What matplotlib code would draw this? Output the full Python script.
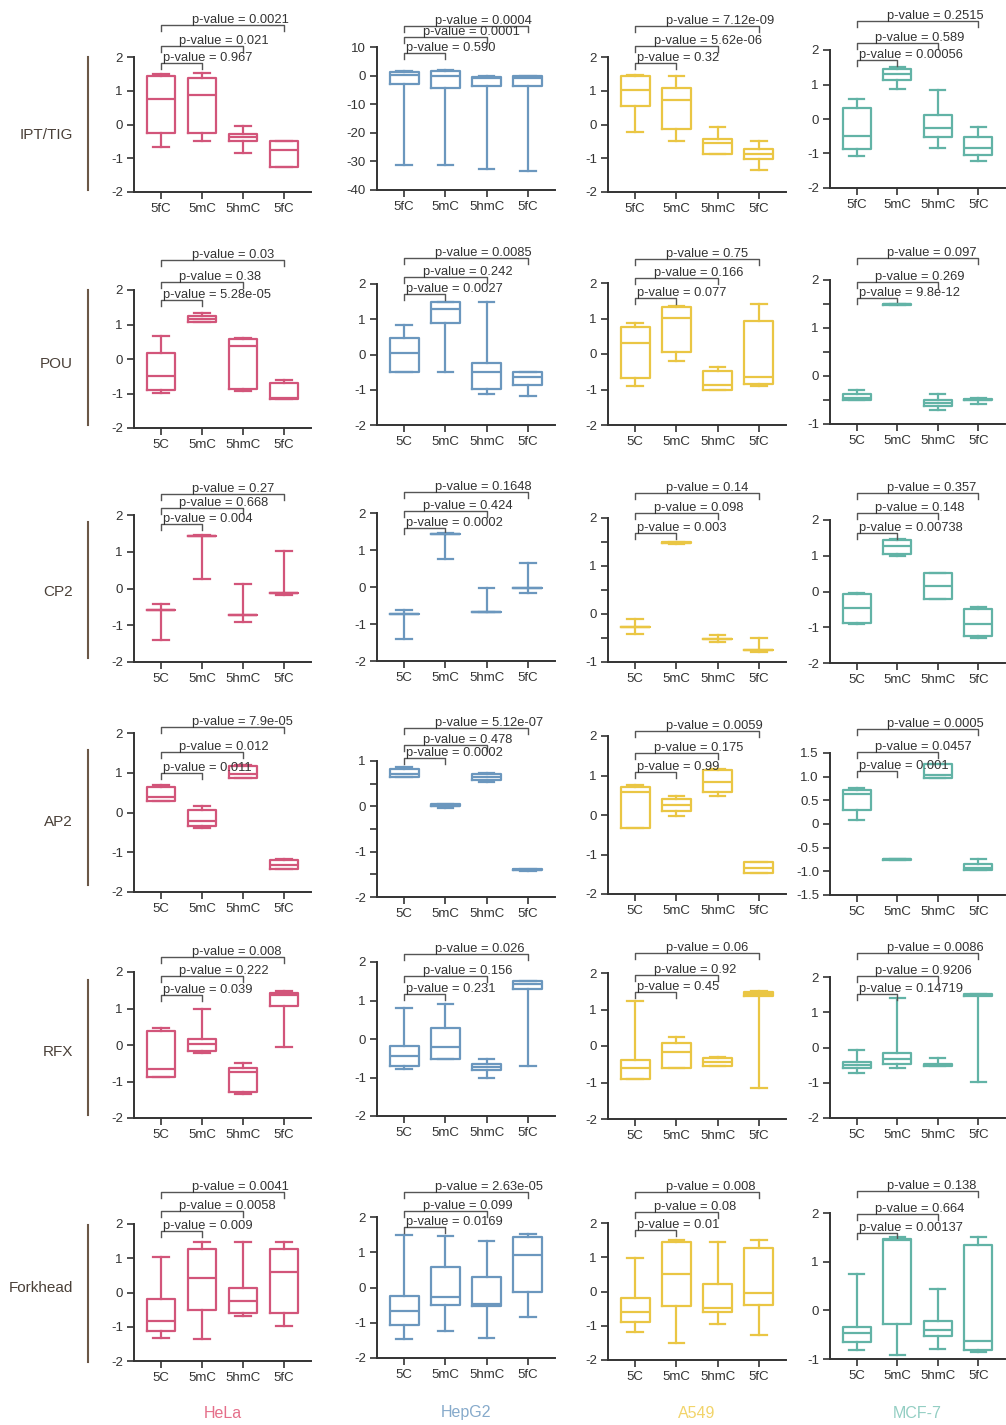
import matplotlib
matplotlib.use('Agg')
import matplotlib.pyplot as plt
import matplotlib.transforms as mtransforms

plt.rcParams['font.family'] = ['Liberation Sans', 'DejaVu Sans']
plt.rcParams['axes.unicode_minus'] = False

W, H = 1006, 1425

# ---- data ----
cell_lines = ['HeLa', 'HepG2', 'A549', 'MCF-7']
motifs = ['IPT/TIG', 'POU', 'CP2', 'AP2', 'RFX', 'Forkhead']
box_colors = ['#D2557A', '#6B97BE', '#EAC644', '#62B3A6']
name_colors = ['#E56F8A', '#86AACB', '#F2D46A', '#93CEC3']

xlabels_first = ['5fC', '5mC', '5hmC', '5fC']
xlabels_rest = ['5C', '5mC', '5hmC', '5fC']

# box stats per category: (whislo, q1, med, q3, whishi)
ipt_hela = [(-0.68, -0.24, 0.77, 1.45, 1.5), (-0.5, -0.26, 0.88, 1.38, 1.52),
            (-0.85, -0.49, -0.38, -0.29, -0.03), (-1.25, -1.25, -0.75, -0.5, -0.5)]
ipt_hepg2 = [(-31.3, -2.8, 0.3, 1.3, 1.6), (-31.3, -4.5, -0.3, 1.5, 1.9),
             (-32.7, -3.7, -0.8, -0.4, -0.2), (-33.4, -3.7, -0.8, -0.3, -0.1)]
ipt_a549 = [(-0.21, 0.55, 1.01, 1.43, 1.48), (-0.5, -0.14, 0.72, 1.09, 1.43),
            (-0.87, -0.87, -0.56, -0.43, -0.07), (-1.34, -1.02, -0.87, -0.73, -0.5)]
ipt_mcf7 = [(-1.08, -0.87, -0.49, 0.31, 0.57), (0.88, 1.12, 1.3, 1.45, 1.5),
            (-0.85, -0.53, -0.27, 0.11, 0.83), (-1.22, -1.03, -0.84, -0.51, -0.22)]

pou_hela = [(-0.98, -0.9, -0.5, 0.18, 0.67), (1.06, 1.06, 1.16, 1.26, 1.33),
            (-0.92, -0.88, 0.39, 0.58, 0.6), (-1.15, -1.15, -1.12, -0.69, -0.61)]
pou_hepg2 = [(-0.51, -0.51, 0.03, 0.47, 0.85), (-0.51, 0.88, 1.28, 1.49, 1.5),
             (-1.12, -0.98, -0.51, -0.25, 1.49), (-1.18, -0.87, -0.63, -0.49, -0.49)]
pou_a549 = [(-0.9, -0.67, 0.3, 0.77, 0.86), (-0.19, 0.07, 1.02, 1.33, 1.36),
            (-1.01, -1.01, -0.87, -0.48, -0.36), (-0.89, -0.84, -0.64, 0.93, 1.42)]
pou_mcf7 = [(-0.5, -0.5, -0.45, -0.38, -0.29), (1.47, 1.48, 1.49, 1.5, 1.51),
            (-0.71, -0.63, -0.56, -0.5, -0.38), (-0.59, -0.51, -0.49, -0.47, -0.45)]

cp2_hela = [(-1.39, -0.59, -0.59, -0.59, -0.43), (0.25, 1.43, 1.43, 1.43, 1.46),
            (-0.91, -0.71, -0.71, -0.71, 0.11), (-0.18, -0.12, -0.12, -0.12, 1.02)]
cp2_hepg2 = [(-1.41, -0.74, -0.74, -0.74, -0.63), (0.77, 1.42, 1.42, 1.42, 1.47),
             (-0.68, -0.68, -0.68, -0.68, -0.04), (-0.17, -0.04, -0.04, -0.04, 0.66)]
cp2_a549 = [(-0.41, -0.28, -0.28, -0.28, -0.11), (1.46, 1.47, 1.48, 1.49, 1.5),
            (-0.59, -0.53, -0.53, -0.53, -0.44), (-0.79, -0.76, -0.76, -0.76, -0.5)]
cp2_mcf7 = [(-0.91, -0.89, -0.45, -0.07, -0.05), (1.0, 1.05, 1.28, 1.45, 1.47),
            (-0.21, -0.21, 0.14, 0.53, 0.53), (-1.31, -1.24, -0.91, -0.5, -0.44)]

ap2_hela = [(0.29, 0.29, 0.38, 0.65, 0.68), (-0.4, -0.34, -0.21, 0.07, 0.17),
            (0.86, 0.86, 0.97, 1.18, 1.2), (-1.41, -1.41, -1.31, -1.2, -1.17)]
ap2_hepg2 = [(0.64, 0.64, 0.71, 0.82, 0.86), (-0.04, 0.0, 0.01, 0.05, 0.06),
             (0.53, 0.57, 0.64, 0.71, 0.73), (-1.42, -1.41, -1.4, -1.39, -1.38)]
ap2_a549 = [(-0.34, -0.34, 0.57, 0.72, 0.76), (-0.02, 0.1, 0.25, 0.4, 0.49),
            (0.49, 0.57, 0.83, 1.14, 1.16), (-1.47, -1.47, -1.35, -1.2, -1.18)]
ap2_mcf7 = [(0.08, 0.29, 0.64, 0.72, 0.75), (-0.77, -0.76, -0.75, -0.74, -0.73),
            (0.97, 0.97, 1.03, 1.26, 1.27), (-0.98, -0.98, -0.94, -0.84, -0.73)]

rfx_hela = [(-0.87, -0.87, -0.66, 0.37, 0.46), (-0.21, -0.16, 0.02, 0.16, 0.99),
            (-1.35, -1.28, -0.73, -0.62, -0.48), (-0.05, 1.08, 1.37, 1.43, 1.47)]
rfx_hepg2 = [(-0.77, -0.7, -0.44, -0.19, 0.81), (-0.53, -0.53, -0.21, 0.29, 0.9),
             (-1.01, -0.81, -0.74, -0.64, -0.53), (-0.7, 1.29, 1.42, 1.5, 1.51)]
rfx_a549 = [(-0.91, -0.91, -0.6, -0.37, 1.24), (-0.6, -0.6, -0.16, 0.07, 0.24),
            (-0.56, -0.55, -0.43, -0.34, -0.29), (-1.14, 1.38, 1.43, 1.49, 1.5)]
rfx_mcf7 = [(-0.71, -0.57, -0.5, -0.4, -0.08), (-0.57, -0.46, -0.34, -0.15, 1.4),
            (-0.53, -0.53, -0.5, -0.46, -0.29), (-0.98, 1.45, 1.48, 1.51, 1.52)]

fkh_hela = [(-1.33, -1.12, -0.83, -0.18, 1.04), (-1.37, -0.5, 0.43, 1.26, 1.48),
            (-0.68, -0.59, -0.25, 0.12, 1.48), (-0.99, -0.59, 0.59, 1.26, 1.48)]
fkh_hepg2 = [(-1.47, -1.07, -0.66, -0.25, 1.5), (-1.24, -0.5, -0.26, 0.58, 1.46),
             (-1.42, -0.53, -0.48, 0.3, 1.31), (-0.85, -0.12, 0.92, 1.42, 1.52)]
fkh_a549 = [(-1.18, -0.89, -0.6, -0.19, 0.97), (-1.49, -0.42, 0.51, 1.44, 1.5),
            (-0.94, -0.61, -0.49, 0.22, 1.44), (-1.28, -0.39, -0.03, 1.26, 1.5)]
fkh_mcf7 = [(-0.82, -0.65, -0.47, -0.35, 0.74), (-0.91, -0.28, 1.44, 1.46, 1.5),
            (-0.8, -0.52, -0.4, -0.21, 0.43), (-0.86, -0.81, -0.64, 1.34, 1.51)]

# p-values: first category vs 2nd, 3rd, 4th
pv_ipt = [['0.967', '0.021', '0.0021'], ['0.590', '0.0001', '0.0004'],
          ['0.32', '5.62e-06', '7.12e-09'], ['0.00056', '0.589', '0.2515']]
pv_pou = [['5.28e-05', '0.38', '0.03'], ['0.0027', '0.242', '0.0085'],
          ['0.077', '0.166', '0.75'], ['9.8e-12', '0.269', '0.097']]
pv_cp2 = [['0.004', '0.668', '0.27'], ['0.0002', '0.424', '0.1648'],
          ['0.003', '0.098', '0.14'], ['0.00738', '0.148', '0.357']]
pv_ap2 = [['0.011', '0.012', '7.9e-05'], ['0.0002', '0.478', '5.12e-07'],
          ['0.99', '0.175', '0.0059'], ['0.001', '0.0457', '0.0005']]
pv_rfx = [['0.039', '0.222', '0.008'], ['0.231', '0.156', '0.026'],
          ['0.45', '0.92', '0.06'], ['0.14719', '0.9206', '0.0086']]
pv_fkh = [['0.009', '0.0058', '0.0041'], ['0.0169', '0.099', '2.63e-05'],
          ['0.01', '0.08', '0.008'], ['0.00137', '0.664', '0.138']]

# y tick labels per panel
yt_std = ['-2', '-1', '0', '1', '2']
yt_m1 = ['-1', '0', '1', '2']
yticks_ipt = [yt_std, ['-40', '-30', '-20', '-10', '0', '10'], yt_std, yt_std]
yticks_pou = [yt_std, yt_std, yt_std, yt_m1]
yticks_cp2 = [yt_std, yt_std, yt_m1, yt_std]
yticks_ap2 = [yt_std, ['-2', '-1', '0', '1'], yt_std,
              ['-1.5', '-1.0', '-0.5', '0', '0.5', '1.0', '1.5']]
yticks_rfx = [yt_std, yt_std, yt_std, yt_std]
yticks_fkh = [yt_std, yt_std, yt_std, yt_m1]

all_boxes = [[ipt_hela, ipt_hepg2, ipt_a549, ipt_mcf7],
             [pou_hela, pou_hepg2, pou_a549, pou_mcf7],
             [cp2_hela, cp2_hepg2, cp2_a549, cp2_mcf7],
             [ap2_hela, ap2_hepg2, ap2_a549, ap2_mcf7],
             [rfx_hela, rfx_hepg2, rfx_a549, rfx_mcf7],
             [fkh_hela, fkh_hepg2, fkh_a549, fkh_mcf7]]
all_pv = [pv_ipt, pv_pou, pv_cp2, pv_ap2, pv_rfx, pv_fkh]
all_yt = [yticks_ipt, yticks_pou, yticks_cp2, yticks_ap2, yticks_rfx, yticks_fkh]
half_ticks = [(1, 3), (2, 2), (3, 1)]

# ---- layout (pixels) ----
col_left = [134, 377, 608, 830]
col_right = [311, 555, 786, 1005]
ax_tb = [[(57, 192), (47, 190), (57, 192), (50, 188)],
         [(290, 428), (284, 425), (283, 425), (280, 424)],
         [(515, 662), (513, 661), (518, 662), (520, 663)],
         [(733, 892), (761, 897), (736, 894), (753, 895)],
         [(972, 1118), (962, 1116), (973, 1119), (977, 1118)],
         [(1224, 1361), (1217, 1358), (1223, 1360), (1213, 1359)]]
bracket_y = [[(63, 46, 25), (53, 37, 26), (63, 46, 26), (60, 43, 21)],
             [(300, 282, 260), (294, 277, 258), (298, 278, 259), (298, 282, 258)],
             [(524, 508, 494), (528, 511, 492), (533, 513, 493), (533, 513, 493)],
             [(773, 752, 727), (758, 745, 728), (772, 753, 731), (771, 752, 729)],
             [(995, 976, 957), (994, 976, 954), (992, 975, 953), (994, 976, 953)],
             [(1231, 1211, 1192), (1227, 1211, 1192), (1230, 1212, 1192), (1233, 1214, 1191)]]
label_dx = [0.05, 0.45, 0.75]
row_label_y = [135, 364, 592, 822, 1052, 1288]
row_line = [(57, 190), (290, 425), (522, 658), (750, 885), (980, 1115), (1225, 1362)]

axis_col = '#333333'
fig = plt.figure(figsize=(W / 100, H / 100), dpi=100)

for r in range(6):
    for c in range(4):
        top, bot = ax_tb[r][c]
        ax = fig.add_axes([col_left[c] / W, 1 - bot / H,
                           (col_right[c] - col_left[c]) / W, (bot - top) / H])
        col = box_colors[c]
        stats = []
        for lo, q1, med, q3, hi in all_boxes[r][c]:
            stats.append(dict(whislo=lo, q1=q1, med=med, q3=q3, whishi=hi, fliers=[]))
        lp = dict(color=col, linewidth=1.6)
        ax.bxp(stats, positions=[1, 2, 3, 4], widths=0.7, capwidths=0.38,
               showfliers=False, boxprops=lp, whiskerprops=lp, capprops=lp,
               medianprops=lp, manage_ticks=False)

        labels = all_yt[r][c]
        vals = [float(s) for s in labels]
        ax.set_ylim(min(vals), max(vals))
        ax.set_yticks(vals)
        ax.set_yticklabels(labels)
        if (r, c) in half_ticks:
            hi_v = max(vals)
            ax.set_yticks([v + 0.5 for v in vals if v < hi_v], minor=True)
            ax.tick_params(axis='y', which='minor', direction='out', length=5,
                           width=1.2, color=axis_col)
        ax.set_xlim(0.34, 4.66)
        ax.set_xticks([1, 2, 3, 4])
        ax.set_xticklabels(xlabels_first if r == 0 else xlabels_rest)
        for s in ['top', 'right']:
            ax.spines[s].set_visible(False)
        for s in ['left', 'bottom']:
            ax.spines[s].set_linewidth(1.4)
            ax.spines[s].set_color(axis_col)
        ax.tick_params(direction='out', length=5, width=1.2, color=axis_col,
                       labelcolor='#333333', labelsize=9.5, pad=3)
        ax.patch.set_visible(False)

        # p-value brackets
        blend = mtransforms.blended_transform_factory(ax.transData, fig.transFigure)
        for b in range(3):
            yb = 1 - bracket_y[r][c][b] / H
            yt = yb - 6 / H
            ax.plot([1, 1, b + 2, b + 2], [yt, yb, yb, yt], transform=blend,
                    color='#555555', lw=1.0, clip_on=False)
            ax.text(1 + label_dx[b], yb + 2 / H, 'p-value = ' + all_pv[r][c][b],
                    transform=blend, ha='left', va='baseline', fontsize=9.3,
                    color='#333333', clip_on=False)

    # row label and side bar
    fig.text(73 / W, 1 - row_label_y[r] / H, motifs[r], ha='right', va='center',
             fontsize=11, color='#4a4038')
    y0, y1 = row_line[r]
    fig.add_artist(plt.Line2D([88 / W, 88 / W], [1 - y0 / H, 1 - y1 / H],
                              color='#6b5847', lw=1.5))

for c in range(4):
    xc = (col_left[c] + col_right[c]) / 2
    fig.text(xc / W, 1 - 1413 / H, cell_lines[c], ha='center', va='center',
             fontsize=11.5, color=name_colors[c])

fig.savefig('out.png', dpi=100)
